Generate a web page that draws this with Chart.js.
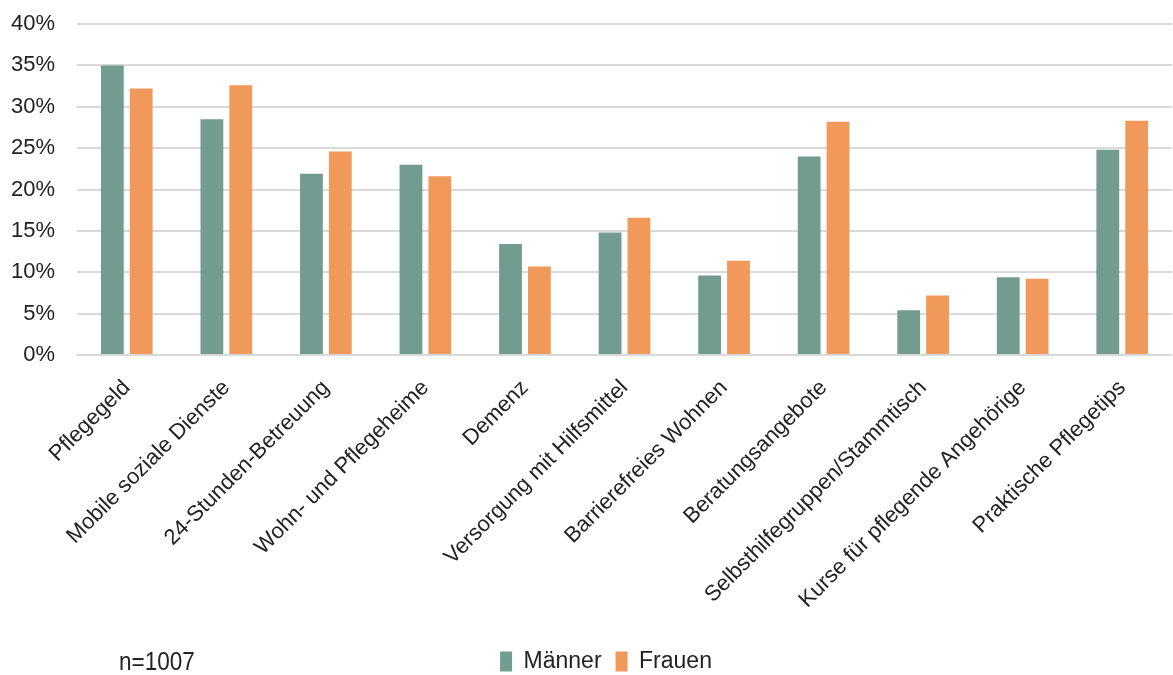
<!DOCTYPE html>
<html>
<head>
<meta charset="utf-8">
<script src="https://cdn.jsdelivr.net/npm/chart.js@4"></script>
<style>
  html, body { margin: 0; padding: 0; background: #fff; }
  #wrap { position: relative; width: 1173px; height: 675px; overflow: hidden; }
  #note { position: absolute; left: 119px; top: 647px; font: 25px "Liberation Sans", sans-serif; line-height: 28px; color: #222; transform: scaleX(0.9); transform-origin: left top; }
</style>
</head>
<body>
<div id="wrap">
  <canvas id="myChart" width="1173" height="675"></canvas>
  <div id="note">n=1007</div>
</div>
<script>
'use strict';
const categories = ['Pflegegeld', 'Mobile soziale Dienste', '24-Stunden-Betreuung', 'Wohn- und Pflegeheime',
  'Demenz', 'Versorgung mit Hilfsmittel', 'Barrierefreies Wohnen', 'Beratungsangebote',
  'Selbsthilfegruppen/Stammtisch', 'Kurse für pflegende Angehörige', 'Praktische Pflegetips'];
const maenner = [35.0, 28.5, 21.9, 23.0, 13.4, 14.8, 9.6, 24.0, 5.4, 9.4, 24.8];
const frauen = [32.2, 32.6, 24.6, 21.6, 10.7, 16.6, 11.4, 28.2, 7.2, 9.2, 28.3];
const yTicks = [0, 5, 10, 15, 20, 25, 30, 35, 40];

const colors = {
  green: '#729c8f',
  orange: '#f0995b',
  grid: '#d9d9d9',
  text: '#222222'
};

// legend sits a bit right of the canvas centre in the original
const legendShift = {
  id: 'legendShift',
  afterLayout(chart) {
    if (chart.legend) {
      chart.legend.left += 20;
      chart.legend.right += 20;
    }
  }
};

const ctx = document.getElementById('myChart');
new Chart(ctx, {
  type: 'bar',
  data: {
    labels: categories,
    datasets: [
      { label: 'Männer', data: maenner, backgroundColor: colors.green },
      { label: 'Frauen', data: frauen, backgroundColor: colors.orange }
    ]
  },
  options: {
    responsive: false,
    animation: false,
    categoryPercentage: 0.58,
    barPercentage: 0.79,
    layout: { padding: { top: 24, right: 1, left: 0, bottom: -8 } },
    scales: {
      x: {
        grid: { display: false },
        border: { display: false },
        ticks: {
          color: colors.text,
          font: { family: 'Liberation Sans', size: 22 },
          minRotation: 45,
          maxRotation: 45,
          autoSkip: false,
          padding: 12
        },
        afterFit: (scale) => { scale.height = 281; }
      },
      y: {
        min: 0,
        max: 40,
        afterBuildTicks: (scale) => { scale.ticks = yTicks.map(v => ({ value: v })); },
        grid: { color: colors.grid, lineWidth: 2, drawTicks: false },
        border: { display: false },
        ticks: {
          color: colors.text,
          font: { family: 'Liberation Sans', size: 22 },
          padding: 22,
          callback: (v) => v + '%'
        },
        afterFit: (scale) => {
          scale.width = 77;
          scale.paddingTop = 0;
          scale.paddingBottom = 0;
        }
      }
    },
    plugins: {
      tooltip: { enabled: false },
      legend: {
        position: 'bottom',
        labels: {
          color: colors.text,
          boxWidth: 12,
          boxHeight: 20,
          padding: 14,
          font: { family: 'Liberation Sans', size: 23 }
        }
      }
    }
  },
  plugins: [legendShift]
});
</script>
</body>
</html>
